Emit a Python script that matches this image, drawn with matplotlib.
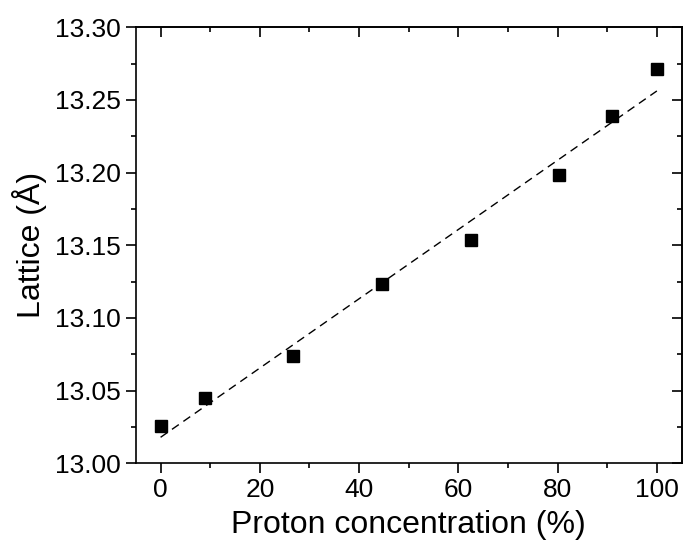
import numpy as np
import matplotlib
matplotlib.use("Agg")
import matplotlib.pyplot as plt
from matplotlib.ticker import MultipleLocator, FormatStrFormatter

# Proton concentration (%) and lattice parameter (Angstrom)
proton = [0.0, 9.0, 26.7, 44.6, 62.5, 80.3, 91.0, 100.0]
lattice = [13.0256, 13.0451, 13.0737, 13.1234, 13.1534, 13.1984, 13.2388, 13.2715]

plt.rcParams["font.family"] = ["Liberation Sans", "DejaVu Sans"]

fig = plt.figure(figsize=(6.84, 5.59), dpi=100)
ax = fig.add_axes([0.1985, 0.1712, 0.7981, 0.78])

# linear fit drawn as dashed line
slope, intercept = np.polyfit(proton, lattice, 1)
xfit = np.array([proton[0], proton[-1]])
ax.plot(xfit, intercept + slope * xfit, color="black", lw=1.0,
        linestyle=(0, (6, 4)))

ax.plot(proton, lattice, linestyle="none", marker="s", ms=9,
        color="black")

ax.set_xlim(-5, 105)
ax.set_ylim(13.00, 13.30)
ax.xaxis.set_major_locator(MultipleLocator(20))
ax.xaxis.set_minor_locator(MultipleLocator(10))
ax.yaxis.set_major_locator(MultipleLocator(0.05))
ax.yaxis.set_minor_locator(MultipleLocator(0.025))
ax.yaxis.set_major_formatter(FormatStrFormatter("%.2f"))

for s in ax.spines.values():
    s.set_linewidth(1.2)

ax.tick_params(which="both", direction="out", width=1.2, labelsize=19, pad=3.5)
ax.tick_params(which="major", length=7)
ax.tick_params(which="minor", length=3.5)

# top / right ticks point inward
top = ax.secondary_xaxis("top")
top.xaxis.set_major_locator(MultipleLocator(20))
top.xaxis.set_minor_locator(MultipleLocator(10))
top.tick_params(which="both", direction="in", width=1.2, labeltop=False)
top.tick_params(which="major", length=7)
top.tick_params(which="minor", length=3.5)

right = ax.secondary_yaxis("right")
right.yaxis.set_major_locator(MultipleLocator(0.05))
right.yaxis.set_minor_locator(MultipleLocator(0.025))
right.tick_params(which="both", direction="in", width=1.2, labelright=False)
right.tick_params(which="major", length=7)
right.tick_params(which="minor", length=3.5)
for s in list(top.spines.values()) + list(right.spines.values()):
    s.set_linewidth(1.2)

ax.set_xlabel("Proton concentration (%)", fontsize=23, labelpad=6)
ax.set_ylabel("Lattice (Å)", fontsize=23, labelpad=6)

fig.savefig("out.png", dpi=100)
